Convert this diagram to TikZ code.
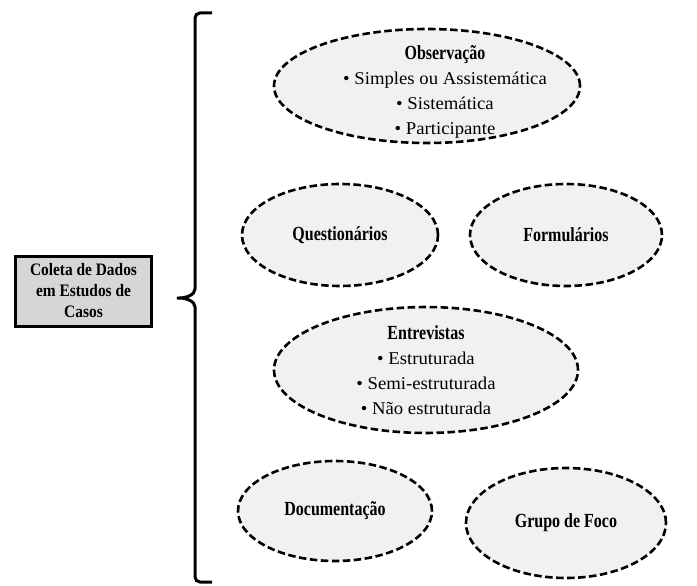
\documentclass[tikz,border=0pt]{standalone}
\usepackage{fontspec}
\setmainfont{Liberation Serif}[FakeStretch=1.04]
\newfontfamily\bfcond{Liberation Serif}[FakeStretch=0.8]
\newfontfamily\boxcond{Liberation Serif}[FakeStretch=0.88]
\usetikzlibrary{shapes.geometric}
\definecolor{ovalfill}{HTML}{F1F1F1}
\definecolor{boxfill}{HTML}{D6D6D6}
\newcommand{\hd}[1]{{\bfcond\bfseries\fontsize{20}{25}\selectfont #1}}
\begin{document}
\begin{tikzpicture}[x=1pt,y=-1pt,
  oval/.style={ellipse, draw=black, line width=2.6pt, dash pattern=on 7.5pt off 3.5pt,
    fill=ovalfill, inner sep=0pt, align=center, font=\fontsize{18}{25}\selectfont},
  ovaltext/.style={inner sep=0pt, align=center, font=\fontsize{18}{25}\selectfont},
  mainbox/.style={draw=black, line width=3pt, fill=boxfill, minimum width=136pt,
    minimum height=70pt, inner sep=0pt, align=center, font=\boxcond\bfseries\fontsize{17.5}{21}\selectfont},
  bracestroke/.style={draw=black, line width=3pt, rounded corners=5pt}]
\useasboundingbox (0,0) rectangle (697,586);

\node[mainbox] (box) at (83.5,291) {Coleta de Dados\\em Estudos de\\Casos};

\coordinate (tip) at (174,298);
\coordinate (btop) at (212,13);
\coordinate (bbot) at (212,582);
\draw[bracestroke] (btop) -- (195,13) -- (195,284)
  .. controls (195,295) and (186,298) .. (tip)
  .. controls (186,298) and (195,301) .. (195,312) -- (195,582) -- (bbot);

\node[oval, minimum width=306pt, minimum height=114pt] (obs) at (427,86) {};
\node[ovaltext] (obstext) at (445,92)
  {\hd{Observação}\\• Simples ou Assistemática\\• Sistemática\\• Participante};
\node[oval, minimum width=196pt, minimum height=102pt] (quest) at (340,235)
  {\hd{Questionários}};
\node[oval, minimum width=192pt, minimum height=102pt] (form) at (566,235)
  {\hd{Formulários}};
\node[oval, minimum width=304pt, minimum height=110pt] (entr) at (426,370)
  {\hd{Entrevistas}\\• Estruturada\\• Semi-estruturada\\• Não estruturada};
\node[oval, minimum width=194pt, minimum height=100pt] (doc) at (335,511)
  {\hd{Documentação}};
\node[oval, minimum width=200pt, minimum height=110pt] (grupo) at (566,523)
  {\hd{Grupo de Foco}};
\end{tikzpicture}
\end{document}
